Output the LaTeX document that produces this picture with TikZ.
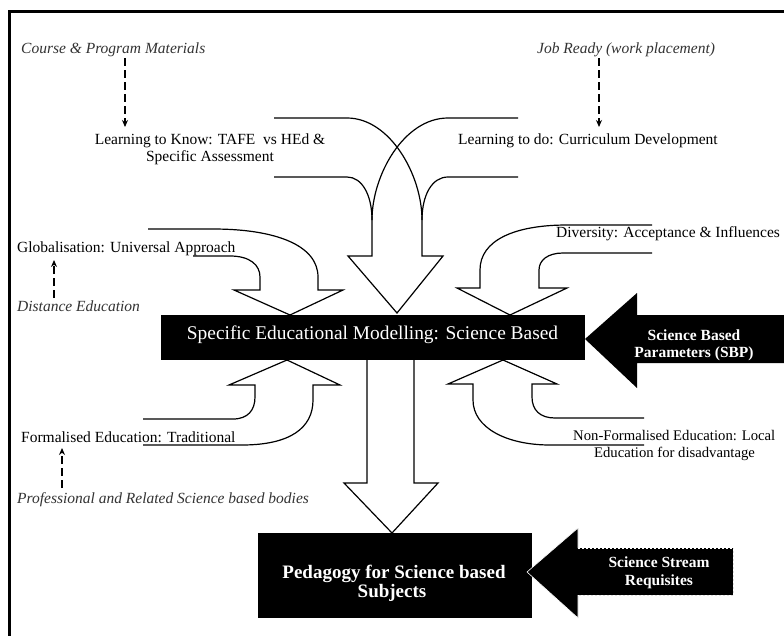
\documentclass[tikz,border=0pt]{standalone}
\usepackage{fontspec}
\setmainfont{Liberation Serif}
\usetikzlibrary{arrows.meta}
\begin{document}
\begin{tikzpicture}[x=1pt,y=-1pt,
  hollow/.style={draw=black,line width=1.2pt,line join=miter},
  lbl/.style={inner sep=0pt,font=\fontsize{15.5}{18}\selectfont},
  ital/.style={inner sep=0pt,font=\fontsize{15.5}{18}\selectfont\itshape,text=black!80},
  dasharrow/.style={line width=1.1pt,dash pattern=on 8pt off 4pt,-{Stealth[length=7pt,width=6pt]}},
  wbold/.style={inner sep=0pt,text=white,font=\fontsize{15.5}{18}\selectfont\bfseries},
  blackbox/.style={fill=black,inner sep=0pt,draw=none}]
\clip (0,0) rectangle (784,635);
\useasboundingbox (0,0) rectangle (784,635);
\fill[white] (0,0) rectangle (784,635);
% frame
\draw[line width=3pt] (9.5,11.5) rectangle (820,660);

% main boxes
\node[blackbox,minimum width=424pt,minimum height=45pt] (model) at (373,337.5) {};
\node[inner sep=0pt,text=white,font=\fontsize{19.4}{22}\selectfont,anchor=base] (modeltxt) at (372.5,339) {Specific Educational Modelling: Science Based};
\node[blackbox,minimum width=274pt,minimum height=85pt] (peda) at (395,575.5) {};
\node[inner sep=0pt,text=white,font=\fontsize{19}{22}\selectfont\bfseries,anchor=base] (peda1) at (394,578) {Pedagogy for Science based};
\node[inner sep=0pt,text=white,font=\fontsize{19}{22}\selectfont\bfseries,anchor=base] (peda2) at (392,597) {Subjects};

% SBP arrow
\fill[black] (585,339) -- (637,293) -- (637,315) -- (820,315) -- (820,363) -- (637,363) -- (637,388) -- cycle;
\node[wbold,anchor=base] (sbp1) at (694,340) {Science Based};
\node[wbold,anchor=base] (sbp2) at (694,357) {Parameters (SBP)};

% Science stream arrow
\fill[black] (527,572) -- (578,528) -- (578,548) -- (733,548) -- (733,595) -- (578,595) -- (578,618) -- cycle;
\draw[white,line width=0.6pt] (578,548) -- (578,528) -- (527,572) -- (578,618) -- (578,595);
\draw[white,line width=0.8pt,dash pattern=on 2pt off 2pt] (578,548) -- (733,548) -- (733,595) -- (578,595);
\node[wbold,anchor=base] (ss1) at (659,567) {Science Stream};
\node[wbold,anchor=base] (ss2) at (659,585) {Requisites};

% top centre merging hollow arrows
\draw[hollow] (274,118) -- (347,118) .. controls (390,118) and (422,175) .. (422,220)
  -- (422,256) -- (443,256) -- (397,313) -- (348,256) -- (372,256) -- (372,220);
\draw[hollow] (518,118) -- (448,118) .. controls (404,118) and (372,175) .. (372,220);
\draw[hollow] (274,177) -- (347,177) .. controls (362,177) and (372,195) .. (372,220);
\draw[hollow] (518,177) -- (448,177) .. controls (432,177) and (422,195) .. (422,220);

% globalisation hollow arrow
\draw[hollow] (148,229) -- (213,229) .. controls (275,229) and (318,245) .. (318,277)
  -- (318,290) -- (343,290) -- (290,315) -- (234,290) -- (260,290) -- (260,277)
  .. controls (260,265) and (250,256) .. (230,256) -- (193,256);

% diversity hollow arrow
\draw[hollow] (652,225) -- (567,225) .. controls (515,225) and (480,240) .. (480,270)
  -- (480,288) -- (457,288) -- (510,315) -- (567,288) -- (539,288) -- (539,270)
  .. controls (539,260) and (548,253) .. (563,253) -- (652,253);

% formalised hollow arrow
\draw[hollow] (143,419) -- (233,419) .. controls (248,419) and (255,410) .. (255,397)
  -- (255,385) -- (229,385) -- (287,360) -- (340,385) -- (313,385) -- (313,400)
  .. controls (313,428) and (290,445) .. (242,445) -- (143,445);

% non-formalised hollow arrow
\draw[hollow] (644,418) -- (555,418) .. controls (540,418) and (532,410) .. (532,397)
  -- (532,384) -- (557,384) -- (503,360) -- (448,384) -- (473,384) -- (473,400)
  .. controls (473,428) and (507,445) .. (550,445) -- (644,445);

% bottom down hollow arrow
\draw[hollow] (367,360) -- (367,483) -- (344,483) -- (392,533) -- (438,483) -- (414,483) -- (414,360);

% labels
\node[ital,anchor=base west] (course) at (21,53) {Course \& Program Materials};
\node[lbl,anchor=base] (know1) at (210,144) {Learning to Know: TAFE\ \ vs HEd \&};
\node[lbl,anchor=base] (know2) at (210,161) {Specific Assessment};
\node[ital,anchor=base west] (job) at (537,53) {Job Ready (work placement)};
\node[lbl,anchor=base west] (todo) at (458,144) {Learning to do: Curriculum Development};
\node[lbl,anchor=base west] (glob) at (17,252) {Globalisation: Universal Approach};
\node[ital,anchor=base west] (dist) at (17,311.5) {Distance Education};
\node[lbl,anchor=base west] (div) at (556,237) {Diversity: Acceptance \& Influences};
\node[lbl,anchor=base west] (formal) at (21,442) {Formalised Education: Traditional};
\node[ital,anchor=base west] (prof) at (17,503) {Professional and Related Science based bodies};
\node[inner sep=0pt,font=\fontsize{14.7}{17}\selectfont,anchor=base west] (nonf1) at (573,440) {Non-Formalised Education: Local};
\node[inner sep=0pt,font=\fontsize{14.7}{17}\selectfont,anchor=base] (nonf2) at (674.5,457) {Education for disadvantage};

% dashed arrows
\coordinate (c1) at (125,58);  \coordinate (c2) at (125,127);
\coordinate (j1) at (599,58);  \coordinate (j2) at (599,127);
\coordinate (d1) at (54,298);  \coordinate (d2) at (54,260);
\coordinate (p1) at (62,488);  \coordinate (p2) at (62,448);
\draw[dasharrow] (c1) -- (c2);
\draw[dasharrow] (j1) -- (j2);
\draw[dasharrow] (d1) -- (d2);
\draw[dasharrow] (p1) -- (p2);
\end{tikzpicture}
\end{document}
